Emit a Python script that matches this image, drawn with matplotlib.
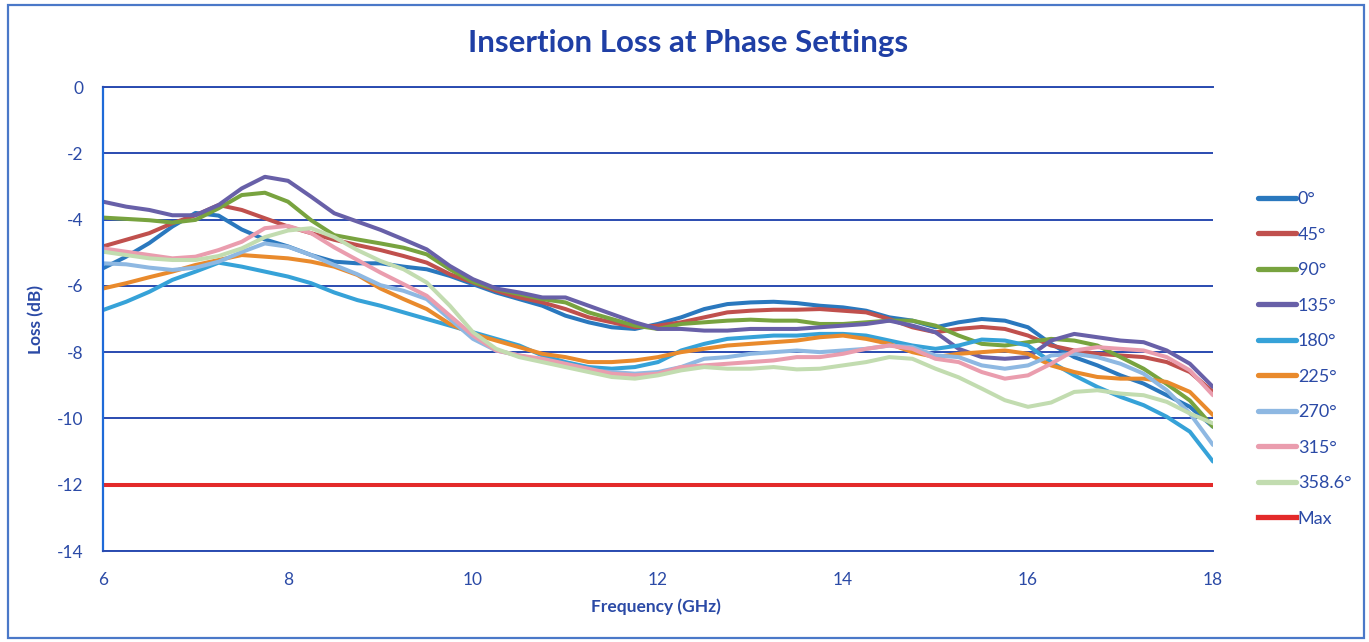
import matplotlib
matplotlib.use('Agg')
import matplotlib.pyplot as plt
import matplotlib.patches as patches

plt.rcParams['font.family'] = ['Lato', 'DejaVu Sans']
plt.rcParams['axes.unicode_minus'] = False

# frequency points (GHz)
freq = [6.0, 6.25, 6.5, 6.75, 7.0, 7.25, 7.5, 7.75, 8.0, 8.25, 8.5, 8.75, 9.0,
        9.25, 9.5, 9.75, 10.0, 10.25, 10.5, 10.75, 11.0, 11.25, 11.5, 11.75, 12.0,
        12.25, 12.5, 12.75, 13.0, 13.25, 13.5, 13.75, 14.0, 14.25, 14.5, 14.75, 15.0,
        15.25, 15.5, 15.75, 16.0, 16.25, 16.5, 16.75, 17.0, 17.25, 17.5, 17.75, 18.0]

loss_0 = [-5.47, -5.12, -4.71, -4.21, -3.80, -3.88, -4.30, -4.60, -4.81, -5.07, -5.27, -5.32, -5.32,
          -5.42, -5.50, -5.70, -5.95, -6.20, -6.40, -6.60, -6.90, -7.10, -7.25, -7.30, -7.15,
          -6.95, -6.70, -6.55, -6.50, -6.48, -6.52, -6.60, -6.65, -6.75, -6.95, -7.05, -7.25,
          -7.10, -7.00, -7.05, -7.25, -7.75, -8.15, -8.40, -8.70, -8.95, -9.30, -9.65, -10.25]
loss_45 = [-4.81, -4.61, -4.41, -4.11, -3.87, -3.56, -3.71, -3.96, -4.21, -4.41, -4.61, -4.77, -4.92,
           -5.10, -5.30, -5.65, -5.90, -6.15, -6.35, -6.50, -6.70, -6.95, -7.10, -7.25, -7.20,
           -7.10, -6.95, -6.80, -6.75, -6.72, -6.72, -6.70, -6.75, -6.80, -7.00, -7.25, -7.40,
           -7.30, -7.24, -7.30, -7.50, -7.80, -7.95, -8.05, -8.10, -8.15, -8.30, -8.60, -9.20]
loss_90 = [-3.94, -3.98, -4.02, -4.09, -4.01, -3.66, -3.26, -3.19, -3.46, -4.02, -4.47, -4.60, -4.72,
           -4.85, -5.05, -5.50, -5.88, -6.10, -6.25, -6.40, -6.50, -6.80, -7.00, -7.20, -7.30,
           -7.15, -7.10, -7.05, -7.02, -7.05, -7.05, -7.15, -7.15, -7.10, -7.05, -7.05, -7.20,
           -7.50, -7.75, -7.80, -7.70, -7.60, -7.65, -7.80, -8.15, -8.50, -8.96, -9.46, -10.25]
loss_135 = [-3.46, -3.61, -3.71, -3.87, -3.87, -3.56, -3.06, -2.71, -2.83, -3.31, -3.81, -4.06, -4.31,
            -4.60, -4.90, -5.40, -5.80, -6.08, -6.20, -6.35, -6.35, -6.60, -6.85, -7.10, -7.30,
            -7.30, -7.35, -7.35, -7.30, -7.30, -7.30, -7.25, -7.20, -7.15, -7.05, -7.20, -7.40,
            -7.90, -8.15, -8.20, -8.15, -7.65, -7.45, -7.55, -7.65, -7.70, -7.95, -8.35, -9.05]
loss_180 = [-6.73, -6.48, -6.18, -5.82, -5.57, -5.30, -5.42, -5.57, -5.72, -5.92, -6.20, -6.43, -6.60,
            -6.80, -7.00, -7.20, -7.40, -7.60, -7.80, -8.10, -8.30, -8.45, -8.50, -8.45, -8.30,
            -7.95, -7.75, -7.60, -7.55, -7.50, -7.50, -7.45, -7.45, -7.50, -7.65, -7.80, -7.90,
            -7.80, -7.62, -7.65, -7.80, -8.30, -8.70, -9.05, -9.35, -9.60, -9.95, -10.40, -11.30]
loss_225 = [-6.08, -5.92, -5.74, -5.57, -5.37, -5.22, -5.07, -5.12, -5.17, -5.27, -5.42, -5.67, -6.08,
            -6.40, -6.70, -7.15, -7.45, -7.65, -7.85, -8.05, -8.15, -8.30, -8.30, -8.25, -8.15,
            -8.00, -7.90, -7.80, -7.75, -7.70, -7.65, -7.55, -7.50, -7.60, -7.75, -8.00, -8.15,
            -8.05, -8.00, -7.95, -8.05, -8.40, -8.60, -8.75, -8.80, -8.80, -8.90, -9.20, -9.90]
loss_270 = [-5.32, -5.35, -5.45, -5.52, -5.45, -5.27, -4.98, -4.72, -4.82, -5.07, -5.37, -5.65, -5.98,
            -6.15, -6.40, -7.00, -7.60, -7.95, -8.10, -8.25, -8.40, -8.55, -8.60, -8.65, -8.60,
            -8.45, -8.20, -8.15, -8.05, -8.00, -7.95, -8.00, -7.95, -7.90, -7.80, -7.85, -8.10,
            -8.15, -8.40, -8.50, -8.40, -8.10, -8.05, -8.15, -8.35, -8.65, -9.15, -9.85, -10.80]
loss_315 = [-4.87, -4.97, -5.07, -5.17, -5.12, -4.92, -4.67, -4.26, -4.19, -4.41, -4.84, -5.22, -5.60,
            -5.95, -6.30, -6.90, -7.50, -7.95, -8.10, -8.20, -8.35, -8.50, -8.65, -8.70, -8.65,
            -8.45, -8.40, -8.35, -8.30, -8.25, -8.15, -8.15, -8.05, -7.90, -7.80, -7.90, -8.20,
            -8.30, -8.60, -8.80, -8.70, -8.35, -7.95, -7.85, -7.90, -7.95, -8.15, -8.55, -9.30]
loss_358 = [-4.97, -5.07, -5.17, -5.22, -5.22, -5.10, -4.87, -4.53, -4.33, -4.26, -4.53, -4.92, -5.25,
            -5.50, -5.90, -6.60, -7.40, -7.90, -8.15, -8.30, -8.45, -8.60, -8.75, -8.80, -8.70,
            -8.55, -8.45, -8.50, -8.50, -8.45, -8.52, -8.50, -8.40, -8.30, -8.15, -8.20, -8.50,
            -8.76, -9.10, -9.45, -9.65, -9.52, -9.20, -9.15, -9.25, -9.30, -9.50, -9.85, -10.15]

max_freq = [6.0, 18.0]
max_loss = [-12.0, -12.0]

labels = ['0°', '45°', '90°', '135°', '180°', '225°', '270°', '315°', '358.6°']
series = [loss_0, loss_45, loss_90, loss_135, loss_180, loss_225, loss_270, loss_315, loss_358]
colors = ['#2A78BE', '#C0504D', '#78A33F', '#6860A8', '#36A2D8',
          '#E98A2C', '#8EB8E2', '#EA9DAE', '#C2DCB0']

txt_blue = '#2B4AA6'
grid_blue = '#2A4BB0'

fig = plt.figure(figsize=(13.69, 6.42), dpi=100)
ax = fig.add_axes([103 / 1369, 1 - 551 / 642, 1110 / 1369, 464 / 642])

for vals, lab, c in zip(series, labels, colors):
    ax.plot(freq, vals, color=c, lw=2.9, label=lab, solid_capstyle='round')
ax.plot(max_freq, max_loss, color='#E32A2A', lw=2.9, label='Max')

ax.set_xlim(6, 18)
ax.set_ylim(-14, 0)
ax.set_xticks([6, 8, 10, 12, 14, 16, 18])
ax.set_yticks([0, -2, -4, -6, -8, -10, -12, -14])
ax.yaxis.grid(True, color=grid_blue, lw=1.4)
ax.set_axisbelow(True)
ax.tick_params(length=0, labelsize=12.5, colors=txt_blue)
ax.tick_params(axis='y', pad=14)
ax.tick_params(axis='x', pad=15)
for s in ['top', 'bottom']:
    ax.spines[s].set_color(grid_blue)
    ax.spines[s].set_linewidth(1.4)
ax.spines['right'].set_visible(False)
ax.spines['left'].set_color('#1E6AD8')
ax.spines['left'].set_linewidth(1.6)

fig.text(688 / 1369, 1 - 43 / 642, 'Insertion Loss at Phase Settings',
         ha='center', va='center', fontsize=22.5, fontweight='bold', color='#1F3FA5')
fig.text(656 / 1369, 1 - 607 / 642, 'Frequency (GHz)', ha='center', va='center',
         fontsize=12.5, fontweight='bold', color=txt_blue)
fig.text(36 / 1369, 1 - 319 / 642, 'Loss (dB)', ha='center', va='center', rotation=90,
         fontsize=12.5, fontweight='bold', color=txt_blue)

leg = ax.legend(loc='upper left', bbox_to_anchor=(1249 / 1369, 1 - 182 / 642),
                bbox_transform=fig.transFigure, frameon=False, fontsize=13,
                handlelength=2.1, handletextpad=0.1, labelspacing=1.08,
                labelcolor=txt_blue, borderpad=0)
for h in leg.get_lines():
    h.set_linewidth(3.8)

# outer chart frame
fig.patches.append(patches.Rectangle((8 / 1369, 4 / 642), 1356 / 1369, 633 / 642,
                                     transform=fig.transFigure, fill=False,
                                     edgecolor='#4A78C8', lw=1.6))

fig.savefig('out.png', dpi=100)
